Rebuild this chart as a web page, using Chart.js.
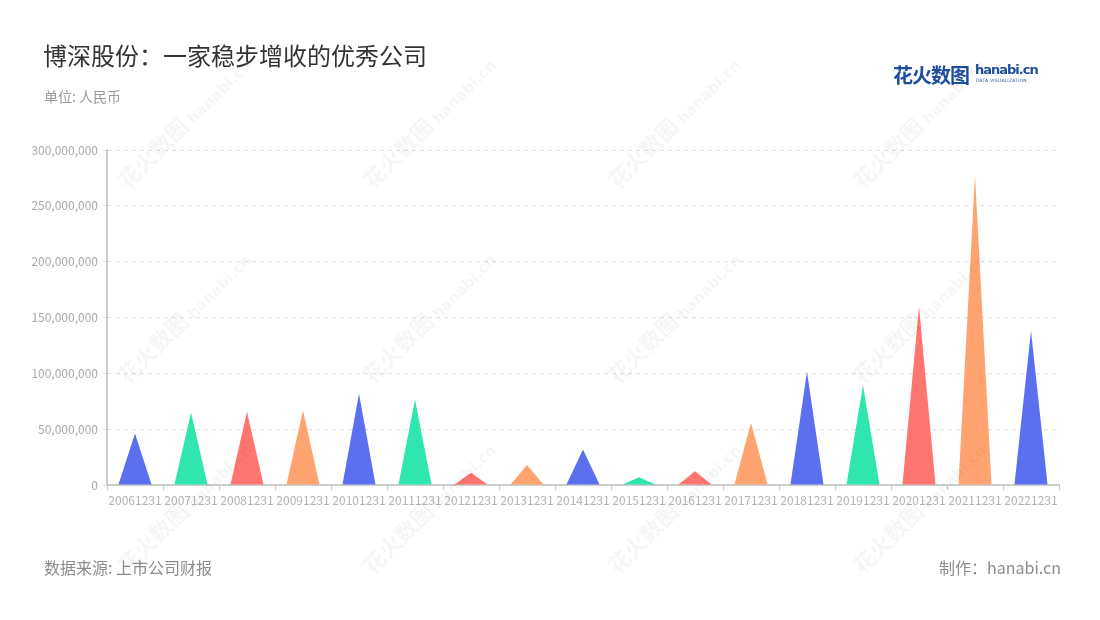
<!DOCTYPE html>
<html>
<head>
<meta charset="utf-8">
<script src="https://cdn.jsdelivr.net/npm/chart.js@4"></script>
<style>
  body { margin: 0; background: #fff; font-family: "Noto Sans CJK SC", "Noto Sans", sans-serif; }
  #page { position: relative; width: 1100px; height: 620px; overflow: hidden; }
  #page canvas { position: absolute; left: 0; top: 0; }
  .title { position: absolute; left: 43px; top: 37px; font-size: 24px; color: #333; }
  .unit { position: absolute; left: 44px; top: 86px; font-size: 14px; color: #999; }
  .source { position: absolute; left: 44px; top: 555px; font-size: 16px; color: #8c8c8c; }
  .maker { position: absolute; right: 39px; top: 555px; font-size: 16px; color: #8c8c8c; }
  .logo { position: absolute; left: 893px; top: 60px; color: #1d4d9c; white-space: nowrap; }
  .logo .cn { font-size: 20px; font-weight: bold; letter-spacing: -1px; }
  .logo .en { position: absolute; left: 82px; top: 2px; font-family: "DejaVu Sans", sans-serif; font-size: 13px; font-weight: bold; letter-spacing: -1px; }
  .logo .sub { position: absolute; left: 83px; top: 18px; font-family: "DejaVu Sans", sans-serif; font-size: 4.5px; letter-spacing: 0.2px; }
  .wm { position: absolute; transform: rotate(-45deg); color: rgba(0,0,0,0.04); font-size: 22px; font-weight: bold; white-space: nowrap; }
  .wm span { font-family: "DejaVu Sans", sans-serif; font-size: 15px; }
</style>
</head>
<body>
<div id="page">
  <canvas id="js--chart--revenue" width="1100" height="620"></canvas>
  <div class="title">博深股份：一家稳步增收的优秀公司</div>
  <div class="unit">单位: 人民币</div>
  <div class="logo"><span class="cn">花火数图</span><span class="en">hanabi.cn</span><span class="sub">DATA VISUALIZATION</span></div>
  <div class="source">数据来源: 上市公司财报</div>
  <div class="maker">制作：hanabi.cn</div>
</div>
<script>
const categories = ['20061231', '20071231', '20081231', '20091231', '20101231', '20111231',
  '20121231', '20131231', '20141231', '20151231', '20161231', '20171231',
  '20181231', '20191231', '20201231', '20211231', '20221231'];

const revenue = [46100000, 64900000, 65500000, 66700000, 81800000, 76500000,
  10900000, 18000000, 31700000, 7000000, 12300000, 55800000,
  101500000, 89300000, 159800000, 277200000, 138100000];

const palette = ['#5a70ee', '#2ee6ae', '#ff7671', '#ffa470'];

// watermarks
const page = document.getElementById('page');
[165, 410, 655, 900].forEach(x => {
  [120, 315, 505].forEach(y => {
    const wm = document.createElement('div');
    wm.className = 'wm';
    wm.innerHTML = '花火数图 <span>hanabi.cn</span>';
    wm.style.left = (x - 70) + 'px';
    wm.style.top = (y - 15) + 'px';
    page.appendChild(wm);
  });
});

// draw every bar as a triangle from its base up to the value
const trianglePlugin = {
  id: 'triangles',
  afterDatasetsDraw(chart) {
    const ctx = chart.ctx;
    chart.getDatasetMeta(0).data.forEach((bar, i) => {
      const half = bar.width / 2;
      ctx.save();
      ctx.fillStyle = palette[i % palette.length];
      ctx.beginPath();
      ctx.moveTo(bar.x - half, bar.base);
      ctx.lineTo(bar.x, bar.y);
      ctx.lineTo(bar.x + half, bar.base);
      ctx.closePath();
      ctx.fill();
      ctx.restore();
    });
  }
};

const ctx = document.getElementById('js--chart--revenue');

new Chart(ctx, {
  type: 'bar',
  data: {
    labels: categories,
    datasets: [{
      label: '营业收入',
      data: revenue,
      backgroundColor: 'rgba(0,0,0,0)',
      borderWidth: 0,
      categoryPercentage: 1,
      barPercentage: 0.59
    }]
  },
  options: {
    responsive: false,
    animation: false,
    layout: { padding: { top: 150, right: 41, bottom: 105, left: 0 } },
    plugins: {
      legend: { display: false },
      tooltip: { enabled: false }
    },
    scales: {
      x: {
        z: 1,
        afterFit: scale => { scale.height = 30; },
        grid: { drawOnChartArea: false, drawTicks: true, tickLength: 5, color: '#cccccc' },
        border: { color: '#cccccc', width: 2 },
        ticks: {
          autoSkip: false,
          maxRotation: 0,
          minRotation: 0,
          padding: 3,
          color: '#b3b3b3',
          font: { family: 'Noto Sans CJK SC', size: 12 }
        }
      },
      y: {
        min: 0,
        max: 300000000,
        afterFit: scale => { scale.width = 107; },
        grid: { color: '#e0e0e0', tickLength: 4 },
        border: { color: '#cccccc', width: 2, dash: [4, 4] },
        ticks: {
          stepSize: 50000000,
          padding: 5,
          color: '#aaaaaa',
          font: { family: 'Noto Sans CJK SC', size: 12 },
          callback: value => value.toLocaleString('en-US')
        }
      }
    }
  },
  plugins: [trianglePlugin]
});
</script>
</body>
</html>
